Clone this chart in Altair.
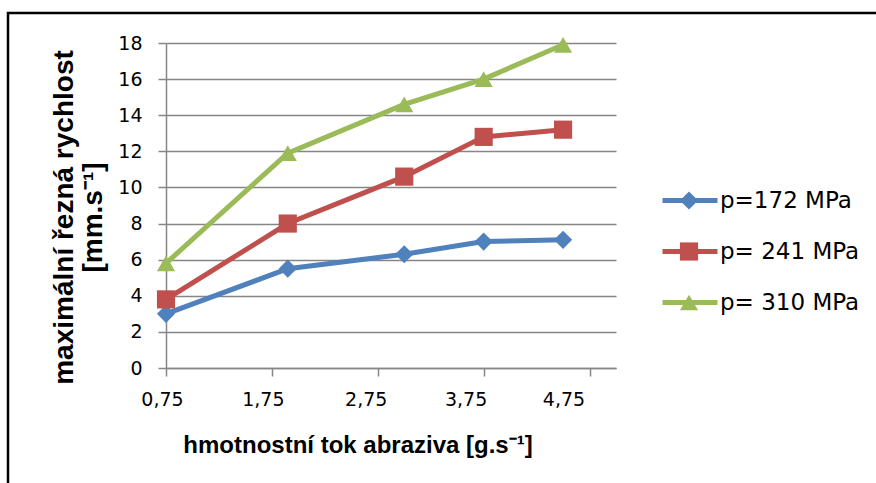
import altair as alt
import pandas as pd

# Abrasive mass flow [g/s] and maximum cutting speed [mm/s] for three pressures
flow = [0.75, 1.9, 3.0, 3.75, 4.5]
series_names = ["p=172 MPa", "p= 241 MPa", "p= 310 MPa"]
speed_172 = [3.0, 5.5, 6.3, 7.0, 7.1]
speed_241 = [3.8, 8.0, 10.6, 12.8, 13.2]
speed_310 = [5.8, 11.9, 14.6, 16.0, 17.9]

colors = ["#4F81BD", "#C0504D", "#9BBB59"]
shapes = ["diamond", "square", "triangle-up"]
x_ticks = [0.75, 1.75, 2.75, 3.75, 4.75]
y_ticks = list(range(0, 19, 2))

rows = []
for name, values in zip(series_names, [speed_172, speed_241, speed_310]):
    for xv, yv in zip(flow, values):
        rows.append({"flow": xv, "speed": yv, "series": name})
df = pd.DataFrame(rows)

GRID = "#868686"
TICK_FONT = "DejaVu Sans"
TITLE_FONT = "Liberation Sans"

x_enc = alt.X(
    "flow:Q",
    scale=alt.Scale(domain=[0.75, 5.0], nice=False, zero=False),
    axis=alt.Axis(
        values=x_ticks,
        tickCount=len(x_ticks),
        labelExpr="replace(format(datum.value, '.2f'), '.', ',')",
        grid=False,
        domainColor=GRID,
        domainWidth=1.5,
        tickColor=GRID,
        tickWidth=1.5,
        tickSize=8,
        labelFont=TICK_FONT,
        labelFontSize=19,
        labelColor="black",
        labelPadding=14,
        labelFlush=False,
        labelOverlap=False,
        labelOffset={
            "condition": [
                {"test": "datum.value == 0.75", "value": -4},
                {"test": "datum.value == 1.75", "value": -9},
                {"test": "datum.value == 2.75", "value": -12},
                {"test": "datum.value == 3.75", "value": -18},
            ],
            "value": -26,
        },
        title="hmotnostní tok abraziva [g.s⁻¹]",
        titleFont=TITLE_FONT,
        titleFontSize=24,
        titleFontWeight="bold",
        titleColor="black",
        titleBaseline="alphabetic",
        titleX=191.5,
        titleY=84,
    ),
)

y_enc = alt.Y(
    "speed:Q",
    scale=alt.Scale(domain=[0, 18], nice=False),
    axis=alt.Axis(
        values=y_ticks,
        tickCount=len(y_ticks),
        format="d",
        grid=True,
        gridColor=GRID,
        gridWidth=1.5,
        domainColor=GRID,
        domainWidth=1.5,
        tickColor=GRID,
        tickWidth=1.5,
        tickSize=8,
        labelFont=TICK_FONT,
        labelFontSize=19,
        labelColor="black",
        labelPadding=16,
        labelFlush=False,
        labelOverlap=False,
        title=["maximální řezná rychlost", "[mm.s⁻¹]"],
        titleFont=TITLE_FONT,
        titleFontSize=28,
        titleFontWeight="bold",
        titleColor="black",
        titleLineHeight=29,
        titleBaseline="middle",
        titleX=-102,
        titleY=174,
    ),
)

color_scale = alt.Scale(domain=series_names, range=colors)
shape_scale = alt.Scale(domain=series_names, range=shapes)

lines = alt.Chart(df).mark_line(strokeWidth=5).encode(
    x=x_enc,
    y=y_enc,
    color=alt.Color(
        "series:N",
        scale=color_scale,
        legend=alt.Legend(
            title=None,
            orient="none",
            legendX=494,
            legendY=132,
            padding=0,
            symbolType="stroke",
            symbolSize=3025,
            symbolStrokeWidth=5,
            clipHeight=51,
            rowPadding=0,
            labelOffset=0,
            labelFont=TICK_FONT,
            labelFontSize=23,
            labelColor="black",
            labelLimit=300,
        ),
    ),
)

# Marker-only legend drawn on top of the line legend
marker_legend = alt.Legend(
    title=None,
    orient="none",
    legendX=513,
    legendY=132,
    padding=0,
    symbolSize=330,
    symbolOpacity=1,
    clipHeight=51,
    rowPadding=0,
    labelExpr="''",
    labelFontSize=1,
)

points = alt.Chart(df).mark_point(filled=True, opacity=1, size=330).encode(
    x="flow:Q",
    y="speed:Q",
    color=alt.Color("series:N", scale=color_scale, legend=marker_legend),
    shape=alt.Shape("series:N", scale=shape_scale, legend=marker_legend),
)

# Outer frame around the whole figure
frame = alt.Chart(pd.DataFrame({"frame": [0]})).mark_rect(
    fill=None, stroke="black", strokeWidth=2.5
).encode(
    x=alt.value(-158),
    x2=alt.value(730),
    y=alt.value(-30),
    y2=alt.value(470),
)

chart = (
    alt.layer(frame, lines, points)
    .resolve_legend(color="independent", shape="independent")
    .properties(
        width=450,
        height=325,
        autosize=alt.AutoSizeParams(type="none"),
        padding={"left": 166, "top": 43, "right": 260, "bottom": 115},
        background="white",
    )
    .configure_view(stroke=None)
)

chart.save("out.html", embed_options={"renderer": "svg", "actions": False})
